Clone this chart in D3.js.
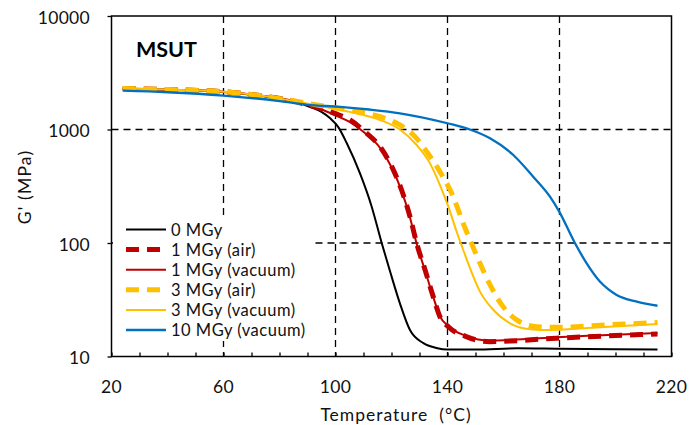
<!DOCTYPE html>
<html>
<head>
<meta charset="utf-8">
<script src="https://cdn.jsdelivr.net/npm/d3@7"></script>
<style>
  html, body { margin: 0; padding: 0; background: #fff; }
  svg { display: block; font-family: Lato, "Open Sans", "DejaVu Sans", sans-serif; }
</style>
</head>
<body>
<svg id="chart" width="691" height="425"></svg>
<script>
// Storage modulus G' (MPa) vs temperature (°C) for MSUT at several doses
const xTicks = [20, 60, 100, 140, 180, 220];
const yTicks = [10, 100, 1000, 10000];
const xGrid = [60, 100, 140, 180];
const yGrid = [100, 1000];

const t0 = [24, 40, 60, 75, 85, 91, 95, 98, 101, 104, 108.75, 112.9, 116.5, 119.5, 123, 126.6, 131.4, 136, 140, 150, 165, 180, 200, 215];
const g0 = [2290, 2240, 2140, 1950, 1760, 1580, 1430, 1260, 1050, 760, 410, 210, 100, 56, 29.4, 17.1, 13.1, 11.9, 11.5, 11.5, 11.8, 11.7, 11.6, 11.5];

const t1air = [24, 40, 60, 75, 85, 90, 95, 100, 105.2, 110.5, 115.9, 120.1, 123.6, 126.6, 129, 132, 134.9, 137.3, 140.3, 146.9, 155, 165, 179, 195, 215];
const g1air = [2300, 2250, 2150, 1960, 1780, 1650, 1530, 1380, 1213, 956, 705, 470, 293, 171, 99, 57.8, 33.7, 22.4, 18.3, 14.9, 13.5, 13.8, 14.5, 15.1, 15.8];

const t1vac = [24, 40, 60, 75, 85, 90, 95, 100, 105.2, 110.5, 115.9, 120.1, 123.6, 126.6, 129, 132, 134.9, 137.3, 140.3, 146.9, 155, 165, 179, 195, 215];
const g1vac = [2300, 2250, 2150, 1960, 1780, 1640, 1500, 1330, 1160, 930, 690, 460, 288, 168, 98, 57, 33.5, 22.6, 18.5, 15.1, 13.8, 14.1, 14.8, 15.4, 16.1];

const t3air = [24, 40, 60, 75, 85, 95, 105, 115.9, 123, 128.4, 132.6, 137.3, 141.5, 146.3, 148.6, 151.6, 155.2, 159.4, 164.7, 171.9, 179, 196.9, 215];
const g3air = [2300, 2250, 2150, 1960, 1790, 1620, 1480, 1297, 1097, 865, 637, 425, 274, 135, 99, 66.2, 42.7, 28.5, 21, 18.3, 18.1, 19, 19.9];

const t3vac = [24, 40, 60, 75, 85, 95, 105, 115.9, 123, 129, 133.75, 137.3, 140.3, 143.3, 145.5, 148, 151.6, 156.4, 162.3, 169.5, 176.6, 190, 215];
const g3vac = [2300, 2250, 2150, 1960, 1780, 1600, 1430, 1213, 1000, 730, 503, 324, 209, 125, 88.5, 60.3, 37.3, 25.7, 19.6, 17.4, 17.1, 17.8, 19.3];

const t10vac = [24, 40, 60, 80, 90, 101.6, 112, 123, 140, 148, 155.2, 163.5, 170.6, 176.6, 179.9, 185.5, 189.7, 194.5, 197.5, 200.4, 207.6, 215];
const g10vac = [2200, 2130, 1990, 1780, 1650, 1585, 1500, 1390, 1135, 1000, 836, 596, 384, 256, 189, 100, 66.2, 45.6, 39, 34.8, 30.4, 28];

const seriesNames = ["0 MGy", "1 MGy (air)", "1 MGy (vacuum)", "3 MGy (air)", "3 MGy (vacuum)", "10 MGy (vacuum)"];
const seriesColors = ["#000000", "#C00000", "#C00000", "#FFC000", "#FFC000", "#0070C0"];
const seriesWidths = [2, 5, 2, 5, 2, 2.3];
const seriesDashed = [false, true, false, true, false, false];
const seriesT = [t0, t1air, t1vac, t3air, t3vac, t10vac];
const seriesG = [g0, g1air, g1vac, g3air, g3vac, g10vac];

const svg = d3.select("#chart");
const plotLeft = 111.5, plotRight = 671.5, plotTop = 16, plotBottom = 356.5;

const x = d3.scaleLinear().domain([20, 220]).range([plotLeft, plotRight]);
const y = d3.scaleLog().domain([10, 10000]).range([plotBottom, plotTop]);

// dashed gridlines
svg.append("g").selectAll("line").data(xGrid).join("line")
  .attr("x1", d => x(d)).attr("x2", d => x(d))
  .attr("y1", plotTop).attr("y2", plotBottom)
  .attr("stroke", "#000").attr("stroke-width", 1.3).attr("stroke-dasharray", "7,5");
svg.append("g").selectAll("line").data(yGrid).join("line")
  .attr("x1", plotLeft).attr("x2", plotRight)
  .attr("y1", d => y(d)).attr("y2", d => y(d))
  .attr("stroke", "#000").attr("stroke-width", 1.3).attr("stroke-dasharray", "7,5");

// x axis with inward minor ticks every 10 °C
const xAxis = d3.axisBottom(x).tickValues(d3.range(20, 221, 10)).tickSize(-4).tickFormat("");
const gx = svg.append("g").attr("transform", `translate(0,${plotBottom})`).call(xAxis);
gx.select(".domain").remove();
gx.selectAll(".tick line").attr("stroke", "#000").attr("stroke-width", 1.3);

svg.append("g").selectAll("text").data(xTicks).join("text")
  .attr("x", d => x(d)).attr("y", 393)
  .attr("text-anchor", "middle")
  .attr("font-size", 17.5).attr("letter-spacing", 0.3).attr("fill", "#111")
  .text(d => d);

// y axis (log)
const yAxis = d3.axisLeft(y).tickValues(yTicks).tickSize(4).tickFormat("");
const gy = svg.append("g").attr("transform", `translate(${plotLeft},0)`).call(yAxis);
gy.select(".domain").remove();
gy.selectAll(".tick line").attr("stroke", "#000").attr("stroke-width", 1.3);

svg.append("g").selectAll("text").data(yTicks).join("text")
  .attr("x", 90).attr("y", d => y(d) + 7.5)
  .attr("text-anchor", "end")
  .attr("font-size", 17.5).attr("letter-spacing", 0.3).attr("fill", "#111")
  .text(d => d);

// plot-area frame
svg.append("rect")
  .attr("x", plotLeft).attr("y", plotTop)
  .attr("width", plotRight - plotLeft).attr("height", plotBottom - plotTop)
  .attr("fill", "none").attr("stroke", "#000").attr("stroke-width", 1.5);

// legend background (hides gridlines beneath it)
svg.append("rect")
  .attr("x", 113).attr("y", 219).attr("width", 200).attr("height", 122)
  .attr("fill", "#fff");

// curves
const line = d3.line()
  .x(d => x(d[0]))
  .y(d => y(d[1]))
  .curve(d3.curveMonotoneX);

const curves = svg.append("g");
seriesNames.forEach((name, i) => {
  const pts = seriesT[i].map((t, j) => [t, seriesG[i][j]]);
  curves.append("path")
    .datum(pts)
    .attr("d", line)
    .attr("fill", "none")
    .attr("stroke", seriesColors[i])
    .attr("stroke-width", seriesWidths[i])
    .attr("stroke-dasharray", seriesDashed[i] ? "13,8" : null)
    .attr("stroke-linejoin", "round");
});

// legend entries
const legend = svg.append("g");
seriesNames.forEach((name, i) => {
  const ly = 229.5 + i * 20.1;
  legend.append("line")
    .attr("x1", 126).attr("x2", 166).attr("y1", ly).attr("y2", ly)
    .attr("stroke", seriesColors[i])
    .attr("stroke-width", seriesWidths[i])
    .attr("stroke-dasharray", seriesDashed[i] ? "13,8" : null);
  legend.append("text")
    .attr("x", 171).attr("y", ly + 6)
    .attr("font-size", 16.5).attr("letter-spacing", 0.5).attr("fill", "#111")
    .text(name);
});

// title inside plot
svg.append("text")
  .attr("x", 136).attr("y", 56.5)
  .attr("font-size", 21.5).attr("font-weight", "bold").attr("fill", "#000")
  .text("MSUT");

// axis titles
svg.append("text")
  .attr("x", 396).attr("y", 421)
  .attr("text-anchor", "middle")
  .attr("font-size", 17.5).attr("letter-spacing", 1).attr("fill", "#111")
  .style("white-space", "pre")
  .text("Temperature  (°C)");

svg.append("text")
  .attr("transform", "translate(31,187) rotate(-90)")
  .attr("text-anchor", "middle")
  .attr("font-size", 17.5).attr("letter-spacing", 1.2).attr("fill", "#111")
  .text("G' (MPa)");
</script>
</body>
</html>
